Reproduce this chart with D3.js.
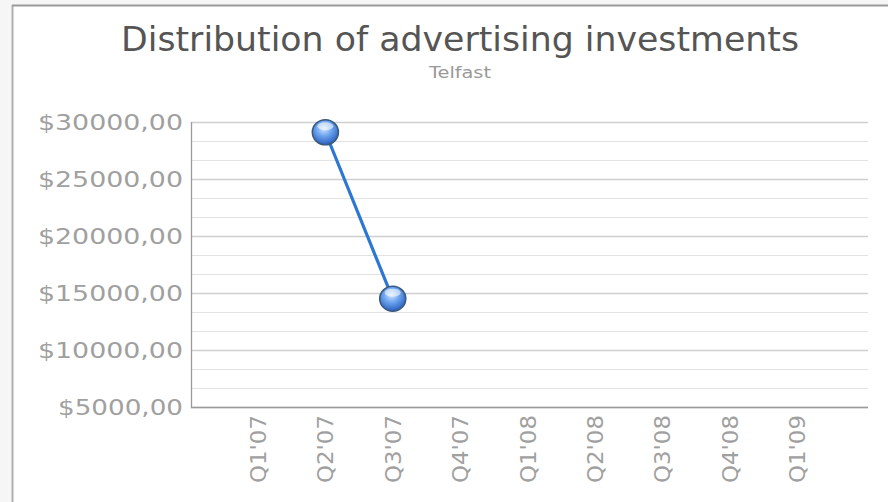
<!DOCTYPE html>
<html><head><meta charset="utf-8">
<script src="https://cdn.jsdelivr.net/npm/d3@7"></script>
<style>html,body{margin:0;padding:0;background:#fff;}svg{display:block;}</style>
</head><body>
<svg id="c" width="888" height="502"></svg>
<script>
const categories = ["Q1'07","Q2'07","Q3'07","Q4'07","Q1'08","Q2'08","Q3'08","Q4'08","Q1'09"];
const values = [null, 29100, 14500, null, null, null, null, null, null];
const yTicks = [5000, 10000, 15000, 20000, 25000, 30000];
const yTickLabels = ["$5000,00","$10000,00","$15000,00","$20000,00","$25000,00","$30000,00"];
const titleText = "Distribution of advertising investments";
const subtitleText = "Telfast";

const svg = d3.select("#c");
const W = 888, H = 502;
const plot = {left: 191, right: 868, top: 122, bottom: 407};

// outer background + frame
svg.append("rect").attr("width", W).attr("height", H).attr("fill", "#f6f6f6");
svg.append("rect").attr("x", 13).attr("y", 6).attr("width", W - 13).attr("height", H - 6).attr("fill", "#fff");
svg.append("line").attr("x1", 12.5).attr("x2", 12.5).attr("y1", 5).attr("y2", H).attr("stroke", "#b0b0b0").attr("stroke-width", 2);
svg.append("line").attr("x1", 12).attr("x2", W).attr("y1", 5.5).attr("y2", 5.5).attr("stroke", "#9a9a9a").attr("stroke-width", 2);

// titles
svg.append("text").attr("x", 460).attr("y", 51).attr("text-anchor", "middle")
  .attr("font-family", "DejaVu Sans").attr("font-size", 34).attr("fill", "#555")
  .attr("textLength", 678).attr("lengthAdjust", "spacingAndGlyphs").text(titleText);
svg.append("text").attr("x", 460).attr("y", 78).attr("text-anchor", "middle")
  .attr("font-family", "DejaVu Sans").attr("font-size", 16).attr("fill", "#999")
  .attr("textLength", 62).attr("lengthAdjust", "spacingAndGlyphs").text(subtitleText);

const y = d3.scaleLinear().domain([5000, 30000]).range([plot.bottom, plot.top]);
const x = d3.scalePoint().domain(categories).range([258, 797]);

// grid: minor lines every third of a major step
const minor = d3.range(5000, 30001, 5000 / 3).filter(v => Math.abs(v / 5000 - Math.round(v / 5000)) > 0.01);
svg.append("g").selectAll("line").data(minor).join("line")
  .attr("x1", plot.left).attr("x2", plot.right)
  .attr("y1", d => Math.round(y(d)) + 0.5).attr("y2", d => Math.round(y(d)) + 0.5)
  .attr("stroke", "#e2e2e2").attr("stroke-width", 1);

const yAxis = d3.axisLeft(y).tickValues(yTicks).tickSize(-(plot.right - plot.left)).tickPadding(8)
  .tickFormat((d, i) => yTickLabels[i]);
const gy = svg.append("g").attr("transform", `translate(${plot.left},0)`).call(yAxis);
gy.select(".domain").remove();
gy.selectAll(".tick line").attr("stroke", "#cfcfcf").attr("stroke-width", 1.3);
gy.selectAll(".tick text").attr("font-family", "DejaVu Sans").attr("font-size", 22).attr("fill", "#a0a0a0")
  .attr("x", -8).attr("dy", "0.35em")
  .attr("textLength", (d, i) => yTickLabels[i].length === 9 ? 145 : 125).attr("lengthAdjust", "spacingAndGlyphs");

// axis lines
svg.append("line").attr("x1", plot.left + 0.5).attr("x2", plot.left + 0.5).attr("y1", plot.top).attr("y2", plot.bottom + 1)
  .attr("stroke", "#9a9a9a").attr("stroke-width", 1.3);
svg.append("line").attr("x1", plot.left).attr("x2", plot.right).attr("y1", plot.bottom + 0.5).attr("y2", plot.bottom + 0.5)
  .attr("stroke", "#9a9a9a").attr("stroke-width", 1.3);

// x axis labels (rotated)
const xAxis = d3.axisBottom(x).tickSize(0).tickPadding(0);
const gx = svg.append("g").attr("transform", `translate(0,${plot.bottom})`).call(xAxis);
gx.select(".domain").remove();
gx.selectAll(".tick text")
  .attr("font-family", "DejaVu Sans").attr("font-size", 21).attr("fill", "#a0a0a0")
  .attr("text-anchor", "end").attr("transform", "rotate(-90)")
  .attr("x", -8).attr("y", 0).attr("dy", "0.36em")
  .attr("textLength", 68).attr("lengthAdjust", "spacingAndGlyphs");

// gradient for markers
const defs = svg.append("defs");
const grad = defs.append("radialGradient").attr("id", "ball").attr("cx", "45%").attr("cy", "35%").attr("r", "65%");
grad.append("stop").attr("offset", "0%").attr("stop-color", "#d4e6ff");
grad.append("stop").attr("offset", "45%").attr("stop-color", "#6fa6ee");
grad.append("stop").attr("offset", "100%").attr("stop-color", "#2a5fc0");

const pts = categories.map((c, i) => ({c, v: values[i]}));
const line = d3.line().defined(d => d.v != null).x(d => x(d.c)).y(d => y(d.v));
svg.append("path").datum(pts).attr("d", line).attr("fill", "none")
  .attr("stroke", "#2b77d3").attr("stroke-width", 3.2);

const dots = svg.append("g").selectAll("g").data(pts.filter(d => d.v != null)).join("g")
  .attr("transform", d => `translate(${x(d.c)},${y(d.v)})`);
dots.append("ellipse").attr("rx", 13).attr("ry", 12.5).attr("fill", "url(#ball)")
  .attr("stroke", "#3a5a80").attr("stroke-width", 1.6);
dots.append("ellipse").attr("cx", 0).attr("cy", -6).attr("rx", 8).attr("ry", 4).attr("fill", "#fff").attr("opacity", 0.55);
</script>
</body></html>
